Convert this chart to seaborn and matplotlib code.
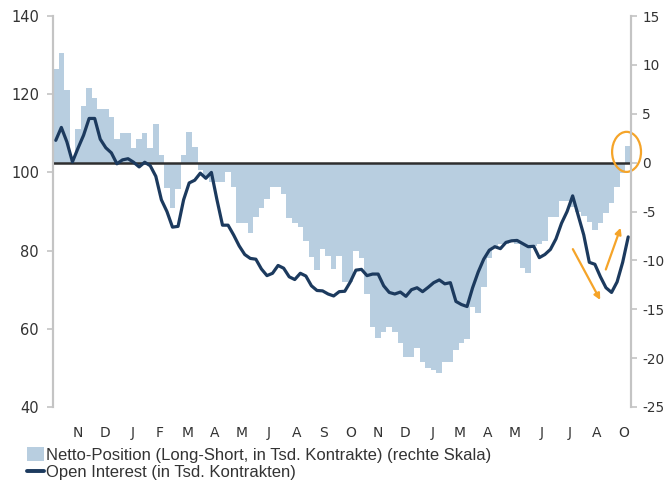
import matplotlib

matplotlib.use("Agg")

import matplotlib.pyplot as plt
import numpy as np
import seaborn as sns
from matplotlib.lines import Line2D
from matplotlib.patches import Ellipse, Patch

# weekly values, Nov -> Oct (two years)
NETTO = [
    9.6, 11.2, 7.4, 0.3, 3.4, 5.8, 7.6, 6.6, 5.5, 5.5,
    4.7, 2.4, 3.0, 3.0, 1.5, 2.4, 3.0, 1.5, 4.0, 0.8,
    -2.6, -4.6, -2.7, 0.8, 3.1, 1.6, -0.8, -1.5, -2.0, -2.0,
    -2.0, -1.0, -2.5, -6.2, -6.2, -7.2, -5.6, -4.6, -3.7, -2.5,
    -2.5, -3.2, -5.7, -6.2, -6.6, -8.0, -9.7, -11.0, -8.8, -9.6,
    -10.9, -9.6, -12.2, -12.2, -9.0, -9.8, -13.4, -16.8, -17.9, -17.3,
    -16.8, -17.3, -18.5, -19.9, -19.9, -19.0, -20.4, -21.0, -21.2, -21.5,
    -20.4, -20.4, -19.2, -18.5, -18.0, -14.8, -15.4, -12.7, -9.8, -8.5,
    -8.3, -8.3, -8.0, -8.3, -10.8, -11.3, -8.5, -8.3, -8.0, -5.6,
    -5.6, -3.9, -3.9, -4.5, -5.0, -5.5, -6.1, -6.9, -6.2, -5.2,
    -4.1, -2.5, -1.1, 1.7,
]
OPEN_INTEREST = [
    108.2, 111.5, 107.8, 102.7, 106.2, 109.5, 113.8, 113.8, 108.5, 106.3,
    105.0, 102.2, 103.2, 103.5, 102.6, 101.4, 102.6, 101.7, 99.0, 93.0,
    90.0, 86.0, 86.2, 93.0, 97.3, 98.0, 99.8, 98.5, 100.0, 93.0,
    86.5, 86.5, 84.0, 81.2, 79.0, 78.0, 77.8, 75.3, 73.6, 74.2,
    76.2, 75.5, 73.3, 72.6, 74.2, 73.5, 71.0, 69.8, 69.7, 68.9,
    68.4, 69.5, 69.6, 72.0, 75.0, 75.2, 73.6, 74.0, 74.0, 71.0,
    69.3, 68.9, 69.4, 68.3, 70.0, 70.5, 69.5, 70.6, 71.8, 72.5,
    71.5, 71.8, 67.0, 66.2, 65.7, 70.5, 74.5, 77.8, 80.1, 81.0,
    80.5, 82.1, 82.5, 82.6, 81.8, 81.0, 81.1, 78.2, 79.0, 80.3,
    83.0, 87.0, 90.0, 94.0, 89.0, 84.0, 77.0, 76.5, 73.3, 70.5,
    69.3, 72.0, 77.0, 83.5,
]
MONTH_LABELS = ["N", "D", "J", "F", "M", "A", "M", "J", "A", "S", "O",
                "N", "D", "J", "M", "A", "M", "J", "J", "A", "O"]
LEFT_TICKS = [40, 60, 80, 100, 120, 140]
RIGHT_TICKS = [-25, -20, -15, -10, -5, 0, 5, 10, 15]

NETTO_LABEL = "Netto-Position (Long-Short, in Tsd. Kontrakte) (rechte Skala)"
OI_LABEL = "Open Interest (in Tsd. Kontrakten)"

BAR_COLOR = "#b8cee0"
LINE_COLOR = "#1c3a5e"
ORANGE = "#f5a429"
GRID_GRAY = "#c4c4c4"
TEXT = "#333333"

sns.set_style("white")
plt.rcParams["font.family"] = ["DejaVu Sans"]
plt.rcParams["axes.unicode_minus"] = False

weeks = np.arange(len(NETTO))

fig = plt.figure(figsize=(6.66, 4.88), dpi=100)
ax = fig.add_axes([53 / 666, 1 - 407 / 488, 578 / 666, 391 / 488])
ax2 = ax.twinx()

# bars (right scale) on the lower axes, line (left scale) on the twin
sns.barplot(x=weeks, y=NETTO, native_scale=True, width=1, color=BAR_COLOR,
            saturation=1, linewidth=0, ax=ax)
ax.axhline(0, color="#2e2e2e", lw=1.8, zorder=3)
ax.set_ylim(-25, 15)
ax.set_xlim(-0.5, len(NETTO) - 0.5)

sns.lineplot(x=weeks, y=OPEN_INTEREST, color=LINE_COLOR, lw=2.3, ax=ax2)
ax2.set_ylim(40, 140)

ax.yaxis.tick_right()
ax.yaxis.set_label_position("right")
ax2.yaxis.tick_left()
ax2.yaxis.set_label_position("left")
ax.set_yticks(RIGHT_TICKS)
ax2.set_yticks(LEFT_TICKS)

tick_pos = np.linspace(4.0, 102.2, len(MONTH_LABELS))
ax.set_xticks(tick_pos, MONTH_LABELS)

for a in (ax, ax2):
    a.set_xlabel("")
    a.set_ylabel("")
    for side in ("top", "bottom"):
        a.spines[side].set_visible(False)
    for side in ("left", "right"):
        a.spines[side].set_color(GRID_GRAY)
        a.spines[side].set_linewidth(1.5)
    a.tick_params(axis="y", direction="out", length=4, width=1.2, color=GRID_GRAY,
                  labelsize=10.5, labelcolor=TEXT, pad=6)
# right-hand labels sit close to the figure edge
ax.tick_params(axis="y", labelsize=9.8, pad=4)
ax.tick_params(axis="x", length=0, pad=14, labelsize=10, labelcolor=TEXT)

# orange highlight: last positive bar and the recent dip/rebound
ax.add_patch(Ellipse((102.7, 1.1), 5.2, 4.1, fill=False, edgecolor=ORANGE,
                     lw=1.6, clip_on=False, zorder=5))
arrow = dict(arrowstyle="-|>", color=ORANGE, lw=1.6, mutation_scale=9)
ax.annotate("", xy=(98.2, -14.3), xytext=(92.8, -8.6), arrowprops=arrow)
ax.annotate("", xy=(101.8, -6.4), xytext=(98.8, -11.2), arrowprops=arrow)

handles = [
    Patch(facecolor=BAR_COLOR, edgecolor="none"),
    Line2D([], [], color=LINE_COLOR, lw=2.8),
]
fig.legend(handles, [NETTO_LABEL, OI_LABEL], loc="upper left",
           bbox_to_anchor=(27 / 666, 1 - 447 / 488), frameon=False,
           borderaxespad=0, borderpad=0, handlelength=1.0, handleheight=0.9,
           handletextpad=0.15, labelspacing=0.1,
           prop={"family": ["Liberation Sans"], "size": 12},
           labelcolor=TEXT)

fig.savefig("out.png", dpi=100)
